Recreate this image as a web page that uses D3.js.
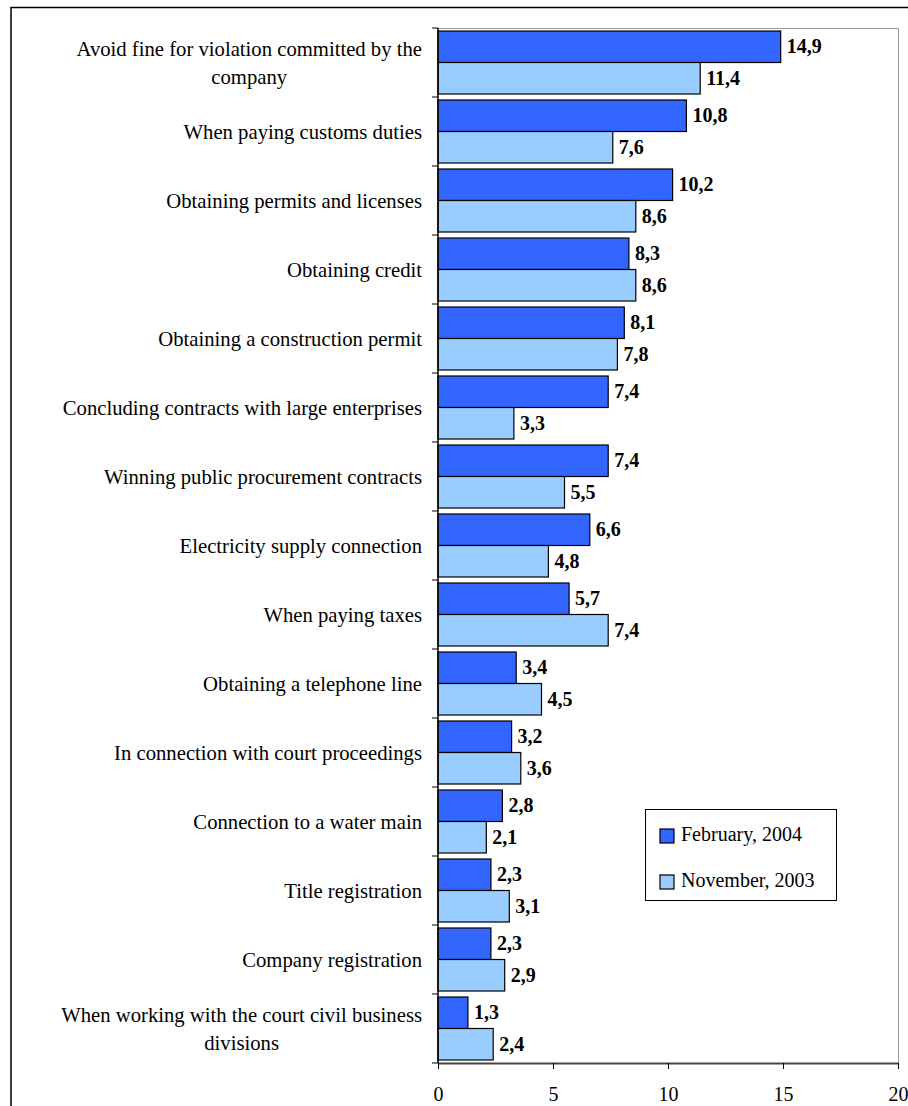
<!DOCTYPE html>
<html>
<head>
<meta charset="utf-8">
<script src="https://cdn.jsdelivr.net/npm/d3@7"></script>
<style>
  html, body { margin: 0; padding: 0; background: #fff; }
  svg { display: block; font-family: "Liberation Serif", "Times New Roman", serif; }
</style>
</head>
<body>
<svg id="chart" width="908" height="1106"></svg>
<script>
const categories = [
  ["Avoid fine for violation committed by the", "company"],
  ["When paying customs duties"],
  ["Obtaining permits and licenses"],
  ["Obtaining credit"],
  ["Obtaining a construction permit "],
  ["Concluding contracts with large enterprises"],
  ["Winning public procurement contracts"],
  ["Electricity supply connection"],
  ["When paying taxes"],
  ["Obtaining a telephone line"],
  ["In connection with court proceedings"],
  ["Connection to a water main"],
  ["Title registration"],
  ["Company registration"],
  ["When working with the court civil business", "divisions"]
];
const seriesNames = ["February, 2004", "November, 2003"];
const feb2004 = [14.9, 10.8, 10.2, 8.3, 8.1, 7.4, 7.4, 6.6, 5.7, 3.4, 3.2, 2.8, 2.3, 2.3, 1.3];
const nov2003 = [11.4, 7.6, 8.6, 8.6, 7.8, 3.3, 5.5, 4.8, 7.4, 4.5, 3.6, 2.1, 3.1, 2.9, 2.4];
const xTicks = [0, 5, 10, 15, 20];
const colors = ["#3366FF", "#99CCFF"];

const svg = d3.select("#chart");
const plot = { left: 438, right: 898, top: 28, bottom: 1063 };

// outer frame (extends past the viewport on the right and bottom)
svg.append("rect").attr("x", 11).attr("y", 7.5).attr("width", 1000).attr("height", 1200)
  .attr("fill", "none").attr("stroke", "#000").attr("stroke-width", 1.5);

const x = d3.scaleLinear().domain([0, 20]).range([plot.left, plot.right]);
const idx = d3.range(categories.length);
const y = d3.scaleBand().domain(idx).range([plot.top, plot.bottom]).padding(0);
const inner = d3.scaleBand().domain([0, 1]).range([3, y.bandwidth() - 3]).padding(0);

// plot area border (top, right) gray
svg.append("path")
  .attr("d", `M${plot.left},${plot.top + 0.5}H${plot.right + 0.5}V${plot.bottom}`)
  .attr("fill", "none").attr("stroke", "#999").attr("stroke-width", 1);

const data = idx.map(i => ({ i, vals: [feb2004[i], nov2003[i]] }));

const groups = svg.append("g").selectAll("g").data(data).join("g")
  .attr("transform", d => `translate(0,${y(d.i)})`);

groups.selectAll("rect").data(d => d.vals.map((v, s) => ({ v, s }))).join("rect")
  .attr("x", x(0))
  .attr("y", d => inner(d.s))
  .attr("width", d => x(d.v) - x(0))
  .attr("height", inner.bandwidth())
  .attr("fill", d => colors[d.s])
  .attr("stroke", "#000").attr("stroke-width", 1.2);

groups.selectAll("text.val").data(d => d.vals.map((v, s) => ({ v, s }))).join("text")
  .attr("class", "val")
  .attr("x", d => x(d.v) + 6)
  .attr("y", d => inner(d.s) + inner.bandwidth() / 2 + 6.5)
  .attr("font-size", 20).attr("font-weight", "bold").attr("fill", "#000")
  .text(d => d.v.toFixed(1).replace(".", ","));

// category labels
const labelRight = 422;
groups.each(function(d) {
  const g = d3.select(this);
  const lines = categories[d.i];
  const t = g.append("text").attr("font-size", 20.7).attr("fill", "#000");
  const cy = y.bandwidth() / 2;
  const lh = 28;
  const baseY = cy + 7 - (lines.length - 1) * lh / 2;
  const tsp = lines.map((l, k) => t.append("tspan").attr("y", baseY + k * lh).text(l));
  if (lines.length === 1) {
    t.attr("text-anchor", "end");
    tsp[0].attr("x", labelRight);
  } else {
    const w = d3.max(tsp, s => s.node().getComputedTextLength());
    t.attr("text-anchor", "middle");
    tsp.forEach(s => s.attr("x", labelRight - w / 2));
  }
});

// y axis
const yAxis = svg.append("g").attr("transform", `translate(${plot.left},0)`);
yAxis.append("line").attr("x1", 0).attr("x2", 0).attr("y1", plot.top).attr("y2", plot.bottom)
  .attr("stroke", "#000").attr("stroke-width", 1.5);
yAxis.selectAll("line.tk").data(idx.concat([categories.length])).join("line")
  .attr("class", "tk")
  .attr("x1", -6).attr("x2", 0)
  .attr("y1", d => d < categories.length ? y(d) : plot.bottom)
  .attr("y2", d => d < categories.length ? y(d) : plot.bottom)
  .attr("stroke", "#000").attr("stroke-width", 1);

// x axis
const xAxis = svg.append("g").attr("transform", `translate(0,${plot.bottom})`)
  .call(d3.axisBottom(x).tickValues(xTicks).tickSize(6).tickSizeOuter(0).tickPadding(18).tickFormat(d3.format("d")));
xAxis.select(".domain").attr("stroke", "#444").attr("stroke-width", 2);
xAxis.selectAll(".tick line").attr("stroke", "#000");
xAxis.selectAll(".tick text").attr("font-size", 20).attr("font-family", "Liberation Serif").attr("fill", "#000");

// legend
const lg = svg.append("g");
lg.append("rect").attr("x", 645.5).attr("y", 809.5).attr("width", 191).attr("height", 91)
  .attr("fill", "#fff").attr("stroke", "#000").attr("stroke-width", 1);
seriesNames.forEach((n, k) => {
  const yy = 829 + k * 46;
  lg.append("rect").attr("x", 660).attr("y", yy).attr("width", 14).attr("height", 14)
    .attr("fill", colors[k]).attr("stroke", "#000").attr("stroke-width", 1.2);
  lg.append("text").attr("x", 681).attr("y", yy + 12).attr("font-size", 20).attr("fill", "#000").text(n);
});
</script>
</body>
</html>
